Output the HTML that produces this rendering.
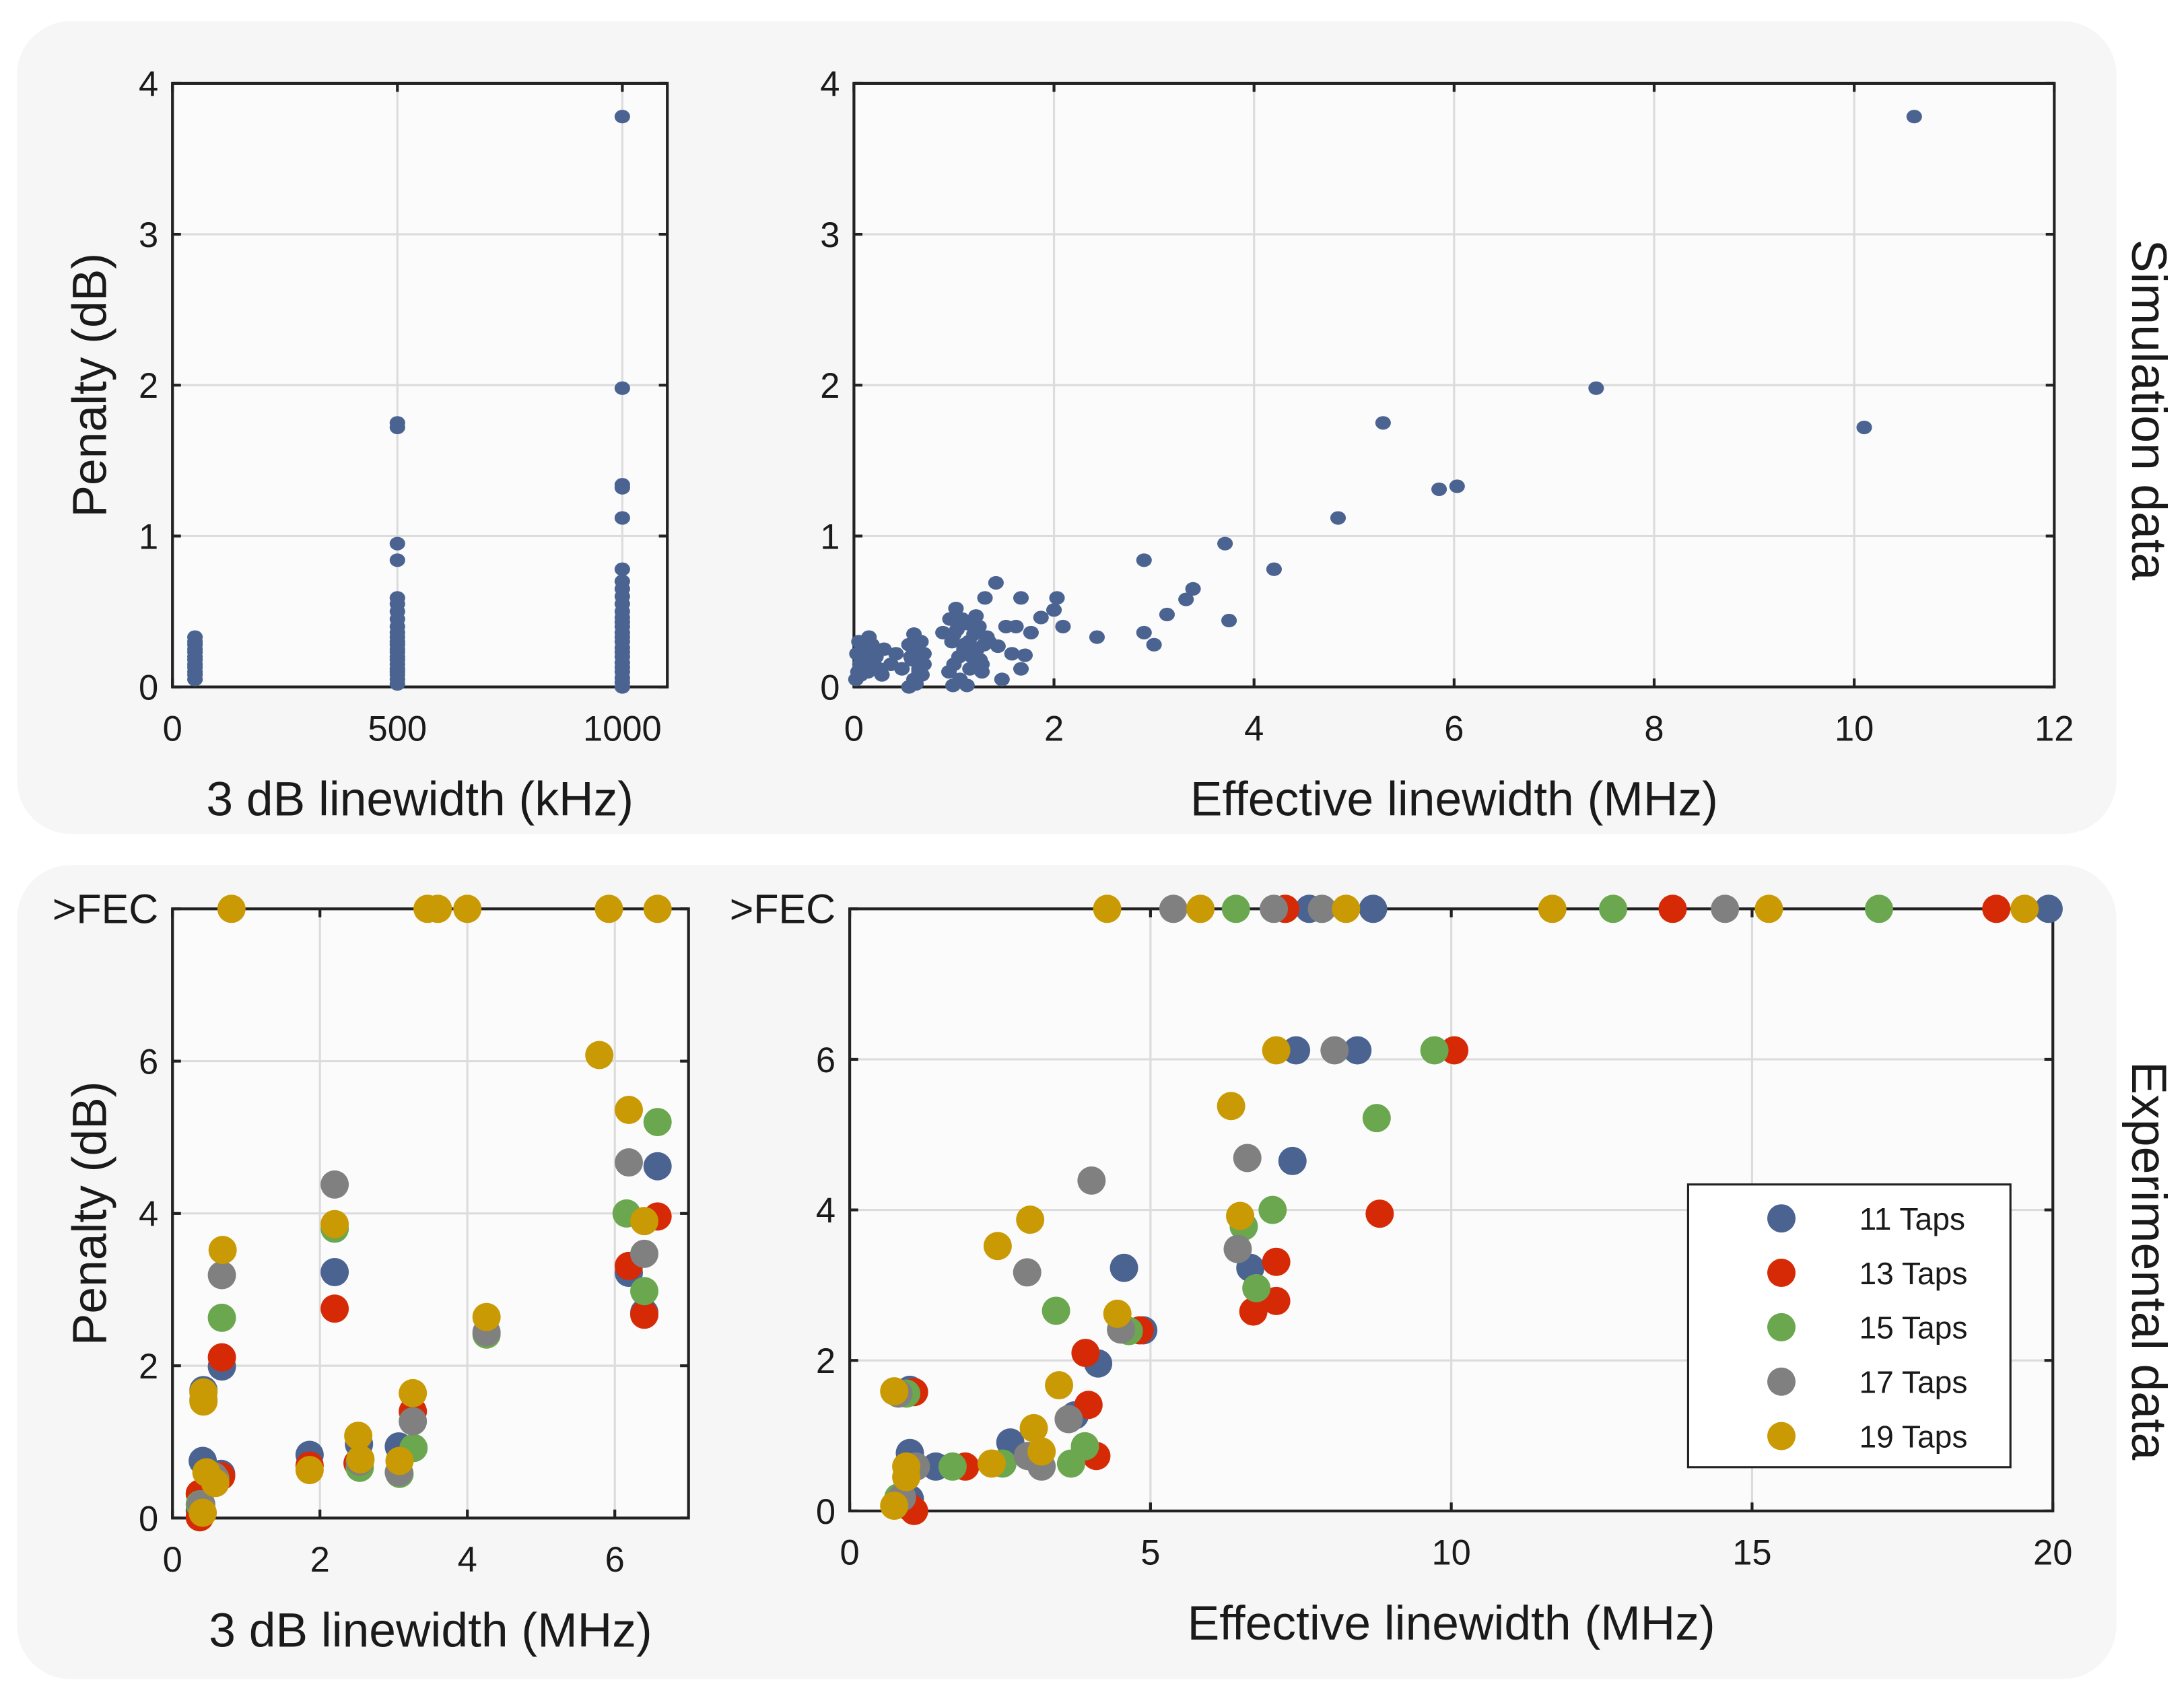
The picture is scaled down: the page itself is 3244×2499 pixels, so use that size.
<!DOCTYPE html>
<html><head><meta charset="utf-8"><style>
html,body{margin:0;padding:0;background:#fff;}
svg{display:block;}
text{font-family:"Liberation Sans",sans-serif;fill:#1a1a1a;}
</style></head><body>
<svg id="fig" width="3244" height="2499" viewBox="0 0 1544.76 1190" xmlns="http://www.w3.org/2000/svg">
<rect x="12" y="15" width="1485" height="575" rx="38" fill="#f6f6f6"/>
<rect x="12" y="612" width="1485" height="576" rx="38" fill="#f6f6f6"/>
<text x="1508" y="290" font-size="35" text-anchor="middle" transform="rotate(90 1508 290)">Simulation data</text>
<text x="1508" y="892" font-size="35" text-anchor="middle" transform="rotate(90 1508 892)">Experimental data</text>
</svg>
<script>
// ---- Data ----
const simLw3dB = [50,50,50,50,50,50,50,50,50,50,50,50,
 500,500,500,500,500,500,500,500,500,500,500,500,500,500,500,500,500,500,500,500,500,500,500,
 1000,1000,1000,1000,1000,1000,1000,1000,1000,1000,1000,1000,1000,1000,1000,1000,1000,1000,1000,1000,1000,1000,1000,1000,1000,1000];
const simPen3dB = [0.05,0.08,0.1,0.13,0.15,0.18,0.2,0.23,0.25,0.28,0.3,0.33,
 0.02,0.05,0.08,0.1,0.12,0.15,0.18,0.2,0.23,0.25,0.28,0.3,0.33,0.36,0.4,0.45,0.5,0.55,0.59,0.84,0.95,1.72,1.75,
 0,0.03,0.06,0.1,0.13,0.16,0.2,0.23,0.26,0.3,0.33,0.36,0.4,0.43,0.46,0.5,0.55,0.6,0.65,0.7,0.78,1.12,1.32,1.34,1.98,3.78];
const simEffLw = [1.42,1.31,1.67,2.03,2.0,1.87,2.09,1.77,1.71,1.67,1.48,1.58,1.62,1.52,1.44,1.28,1.13,0.99,1.02,1.22,0.89,
 0.95,1.0,1.05,1.1,1.15,1.2,1.25,1.3,1.35,0.98,1.03,1.08,1.13,1.18,1.23,1.28,0.96,1.06,1.16,1.26,1.0,1.1,1.2,1.33,
 0.55,0.6,0.65,0.7,0.57,0.62,0.67,0.6,0.65,0.55,0.7,0.62,0.58,0.68,0.3,0.37,0.42,0.48,0.22,0.28,
 0.02,0.04,0.06,0.08,0.1,0.12,0.15,0.18,0.2,0.25,0.03,0.07,0.11,0.05,0.09,0.14,
 2.43,2.9,2.9,3.0,3.13,3.32,3.39,3.71,3.75,4.2,4.84,5.29,5.85,6.03,7.42,10.1,10.6];
const simEffPen = [0.69,0.59,0.59,0.59,0.51,0.46,0.4,0.36,0.21,0.12,0.05,0.22,0.4,0.4,0.27,0.1,0.01,0.01,0.52,0.47,0.36,
 0.1,0.15,0.2,0.25,0.3,0.35,0.4,0.28,0.3,0.3,0.38,0.45,0.42,0.2,0.25,0.15,0.45,0.05,0.12,0.18,0.35,0.28,0.22,0.33,
 0.0,0.05,0.1,0.15,0.2,0.25,0.3,0.35,0.12,0.28,0.22,0.02,0.18,0.08,0.25,0.15,0.22,0.12,0.2,0.08,
 0.05,0.1,0.15,0.2,0.25,0.3,0.33,0.28,0.18,0.12,0.22,0.08,0.14,0.3,0.2,0.1,
 0.33,0.84,0.36,0.28,0.48,0.58,0.65,0.95,0.44,0.78,1.12,1.75,1.31,1.33,1.98,1.72,3.78];

const seriesNames = ["11 Taps","13 Taps","15 Taps","17 Taps","19 Taps"];
const seriesColors = ["#4b6391","#d62a06","#6aa74f","#808080","#c99a03"];
const FEC = 8;
const exp3x = [
 [6.58,6.19,6.4,2.2,0.67,0.42,1.86,2.53,3.07,0.41,0.66,0.37],
 [6.58,6.19,6.4,2.2,0.67,1.86,2.51,3.26,0.37,0.37,0.66],
 [6.58,6.16,6.4,2.2,0.67,4.26,3.27,2.54,3.08,0.58,0.37],
 [6.19,6.4,2.2,0.67,4.26,3.26,2.54,3.07,0.42,0.39,0.56],
 [0.8,3.46,3.6,4.0,5.92,6.58,5.79,6.19,6.4,4.26,0.68,2.2,0.42,0.42,3.26,2.52,2.55,1.86,3.08,0.46,0.58,0.41]];
const exp3y = [
 [4.62,3.22,2.7,3.23,1.99,1.68,0.83,0.97,0.94,0.75,0.58,0.1],
 [3.96,3.31,2.67,2.75,2.11,0.69,0.72,1.4,0.01,0.32,0.55],
 [5.2,4.0,2.98,3.8,2.63,2.41,0.92,0.66,0.58,0.52,0.18],
 [4.67,3.47,4.38,3.19,2.44,1.27,0.74,0.6,1.55,0.18,0.55],
 [8,8,8,8,8,8,6.08,5.36,3.9,2.64,3.52,3.86,1.65,1.53,1.64,1.08,0.77,0.63,0.75,0.6,0.46,0.07]];
const expEx = [
 [7.64,8.7,19.93,7.42,8.44,7.36,4.56,6.66,4.88,4.13,1.0,3.74,2.67,1.0,1.43,1.0],
 [7.24,13.68,19.06,10.05,8.81,7.09,7.09,6.71,4.82,3.92,1.07,3.97,4.1,1.92,1.0,1.07],
 [6.42,12.69,17.11,9.72,8.76,7.03,6.55,6.76,3.43,4.64,0.94,3.91,1.71,2.54,3.68,0.81],
 [5.38,7.05,7.85,14.55,8.06,6.61,4.02,6.45,2.95,4.51,0.81,3.64,2.96,3.19,1.1,0.87],
 [4.28,5.83,8.25,11.68,15.28,19.53,7.09,6.34,3.0,6.49,2.46,4.45,3.48,0.74,3.06,3.19,2.36,0.94,0.94,0.74]];
const expEy = [
 [8,8,8,6.12,6.12,4.65,3.23,3.23,2.4,1.96,1.61,1.27,0.91,0.77,0.59,0.16],
 [8,8,8,6.12,3.95,3.31,2.79,2.65,2.4,2.1,1.58,1.41,0.73,0.59,0.05,0.0],
 [8,8,8,6.12,5.22,4.0,3.78,2.96,2.66,2.39,1.56,0.86,0.59,0.63,0.63,0.18],
 [8,8,8,8,6.12,4.69,4.39,3.48,3.17,2.41,1.56,1.22,0.73,0.59,0.59,0.18],
 [8,8,8,8,8,8,6.12,5.38,3.87,3.92,3.52,2.62,1.67,1.59,1.1,0.79,0.63,0.59,0.45,0.07]];

const ticks1x = [0,500,1000], ticks2x = [0,2,4,6,8,10,12], ticks3x = [0,2,4,6], ticks4x = [0,5,10,15,20];
const ticksSimY = [0,1,2,3,4], ticksExpY = [0,2,4,6];

// ---- Drawing ----
const NS = "http://www.w3.org/2000/svg";
const svg = document.getElementById('fig');
function el(tag, attrs, parent){ const e=document.createElementNS(NS,tag); for(const k in attrs) e.setAttribute(k,attrs[k]); (parent||svg).appendChild(e); return e; }

function makeAxes(name, x0,x1,y0,y1, xmin,xmax,ymin,ymax, xt, yt, xlabel, ylabel, fec){
  const g = el('g',{});
  
  
  const sx = v => x0 + (v-xmin)/(xmax-xmin)*(x1-x0);
  const sy = v => y1 - (v-ymin)/(ymax-ymin)*(y1-y0);
  const bg = el('rect',{x:x0,y:y0,width:x1-x0,height:y1-y0,fill:'#fbfbfb'},g);
  
  
  xt.forEach(v=>{ if(v>xmin&&v<xmax){ const l=el('line',{x1:sx(v),x2:sx(v),y1:y0,y2:y1,stroke:'#dcdcdc','stroke-width':1.5},g);   }});
  const yAll = fec ? yt.concat([FEC]) : yt;
  yAll.forEach(v=>{ if(v>ymin&&v<ymax){ const l=el('line',{x1:x0,x2:x1,y1:sy(v),y2:sy(v),stroke:'#dcdcdc','stroke-width':1.5},g);   }});
  xt.forEach(v=>{
    const t=el('line',{x1:sx(v),x2:sx(v),y1:y1,y2:y1-6,stroke:'#222','stroke-width':2},g);
     
    const t2=el('line',{x1:sx(v),x2:sx(v),y1:y0,y2:y0+6,stroke:'#222','stroke-width':2},g);
     
    const tx=el('text',{x:sx(v),y:y1+38,'font-size':25,'text-anchor':'middle'},g); tx.textContent=v;
     
  });
  yAll.forEach(v=>{
    const t=el('line',{x1:x0,x2:x0+6,y1:sy(v),y2:sy(v),stroke:'#222','stroke-width':2},g);
     
    const t2=el('line',{x1:x1,x2:x1-6,y1:sy(v),y2:sy(v),stroke:'#222','stroke-width':2},g);
     
    const isF = fec && v===FEC;
    const tx=el('text',{x:x0-10,y:sy(v)+(isF?10:9),'font-size':isF?29:25,'text-anchor':'end'},g);
    tx.textContent = isF ? '>FEC' : v;
     
  });
  const fr=el('rect',{x:x0,y:y0,width:x1-x0,height:y1-y0,fill:'none',stroke:'#222','stroke-width':2},g);
   
  const xl=el('text',{x:(x0+x1)/2,y:y1+91,'font-size':34,'text-anchor':'middle'},g); xl.textContent=xlabel;
   
  if(ylabel){
    const cy=(y0+y1)/2;
    const yl=el('text',{x:75,y:cy,'font-size':34,'text-anchor':'middle',transform:`rotate(-90 75 ${cy})`},g); yl.textContent=ylabel;
     
  }
  const marks=el('g',{},g);
   
  return {sx,sy,marks};
}

const a1 = makeAxes('sim-3db-axes',122,472,59,486,0,1100,0,4,ticks1x,ticksSimY,'3 dB linewidth (kHz)','Penalty (dB)',false);
const a2 = makeAxes('sim-effective-axes',604,1453,59,486,0,12,0,4,ticks2x,ticksSimY,'Effective linewidth (MHz)',null,false);
const a3 = makeAxes('exp-3db-axes',122,487,643,1074,0,7,0,FEC,ticks3x,ticksExpY,'3 dB linewidth (MHz)','Penalty (dB)',true);
const a4 = makeAxes('exp-effective-axes',601,1452,643,1069,0,20,0,FEC,ticks4x,ticksExpY,'Effective linewidth (MHz)',null,true);

function simPts(ax, xs, ys){
  xs.forEach((v,i)=>{
    const c=el('ellipse',{cx:ax.sx(v),cy:ax.sy(ys[i]),rx:5.5,ry:4.8,fill:'#4b6391'},ax.marks);
     
  });
}
simPts(a1, simLw3dB, simPen3dB);
simPts(a2, simEffLw, simEffPen);

function expPts(ax, X, Y){
  X.forEach((xs,s)=>{
    xs.forEach((v,i)=>{
      const c=el('circle',{cx:ax.sx(v),cy:ax.sy(Y[s][i]),r:10,fill:seriesColors[s]},ax.marks);
      
      
    });
  });
}
expPts(a3, exp3x, exp3y);
expPts(a4, expEx, expEy);

const lg = el('g',{});


el('rect',{x:1194,y:838,width:228,height:200,fill:'#ffffff',stroke:'#222','stroke-width':1.5},lg);
seriesNames.forEach((n,i)=>{
  const y=862+i*38.5;
  const e=el('g',{},lg);
  
  
  el('circle',{cx:1260,cy:y,r:10,fill:seriesColors[i]},e);
  const t=el('text',{x:1315,y:y+8,'font-size':22},e); t.textContent=n;
});
</script>
</body></html>
